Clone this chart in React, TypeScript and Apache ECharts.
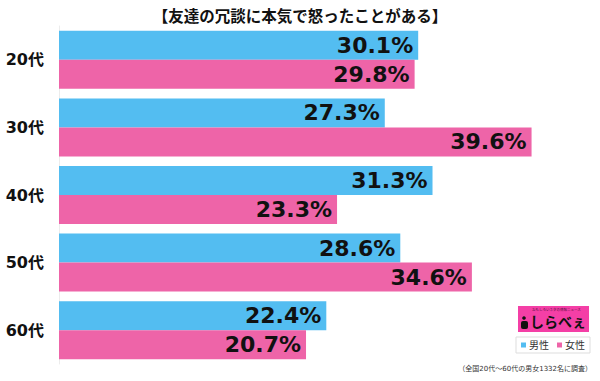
import React, { useEffect, useRef } from "react";
import * as echarts from "echarts";

const title = "【友達の冗談に本気で怒ったことがある】";
const categories = ["20代", "30代", "40代", "50代", "60代"];
const seriesNames = ["男性", "女性"];
const maleValues = [30.1, 27.3, 31.3, 28.6, 22.4];
const femaleValues = [29.8, 39.6, 23.3, 34.6, 20.7];
const footnote = "（全国20代～60代の男女1332名に調査）";

const BLUE = "#53BDF1";
const PINK = "#EE64A8";
const FONT = "'DejaVu Sans', 'Noto Sans CJK JP', sans-serif";

export default function App() {
  const ref = useRef<HTMLDivElement>(null);
  useEffect(() => {
    if (!ref.current) return;
    const chart = echarts.init(ref.current, null, { renderer: "svg" });
    const label = {
      show: true,
      position: "insideRight",
      distance: 5,
      color: "#111",
      fontWeight: "bold",
      fontSize: 22,
      fontFamily: FONT,
      formatter: (p: any) => Number(p.value).toFixed(1) + "%",
    };
    chart.setOption({
      animation: false,
      backgroundColor: "#ffffff",
      textStyle: { fontFamily: FONT },
      title: {
        text: title,
        left: "center",
        top: 4,
        textStyle: { fontSize: 15.5, fontWeight: "bold", color: "#111", fontFamily: FONT },
      },
      legend: {
        data: seriesNames,
        right: 10,
        top: 337,
        icon: "rect",
        itemWidth: 5,
        itemHeight: 5,
        itemGap: 8,
        padding: [3, 5, 3, 5],
        borderColor: "#dddddd",
        borderWidth: 1,
        textStyle: { fontSize: 10, color: "#333", fontFamily: FONT, padding: [0, 0, 0, -2] },
      },
      grid: { left: 59, right: 4, top: 26, height: 338 },
      xAxis: { type: "value", min: 0, max: 45, show: false },
      yAxis: {
        type: "category",
        data: categories,
        inverse: true,
        axisLine: { show: true, lineStyle: { color: "#ececec" } },
        axisTick: { show: false },
        axisLabel: { margin: 15, fontSize: 16, fontWeight: "bold", color: "#111", fontFamily: FONT },
      },
      series: [
        {
          name: seriesNames[0],
          type: "bar",
          data: maleValues,
          barWidth: 29,
          barGap: "0%",
          itemStyle: { color: BLUE },
          label,
        },
        {
          name: seriesNames[1],
          type: "bar",
          data: femaleValues,
          barWidth: 29,
          barGap: "0%",
          itemStyle: { color: PINK },
          label,
        },
      ],
      graphic: [
        { type: "rect", left: 518, top: 306, shape: { width: 71, height: 26 }, style: { fill: "#F43FA6" } },
        {
          type: "text",
          left: 532,
          top: 308,
          style: { text: "おもしろいネタの情報ニュース", fontSize: 3.5, fill: "#5a1040", fontFamily: FONT },
        },
        { type: "circle", shape: { cx: 524, cy: 318, r: 1.8 }, style: { fill: "#111" } },
        { type: "rect", shape: { x: 521, y: 321, width: 7, height: 8, r: 2 }, style: { fill: "#111" } },
        {
          type: "text",
          left: 530,
          top: 314,
          style: { text: "しらべぇ", fontSize: 14, fontWeight: "bold", fill: "#111", fontFamily: "'Noto Sans CJK JP', sans-serif" },
        },
        {
          type: "text",
          right: 8,
          top: 365,
          style: { text: footnote, fontSize: 7, fill: "#333", fontFamily: FONT },
        },
      ],
    });
    return () => chart.dispose();
  }, []);
  return <div ref={ref} style={{ position: "fixed", left: 0, top: 0, width: 600, height: 381 }} />;
}
